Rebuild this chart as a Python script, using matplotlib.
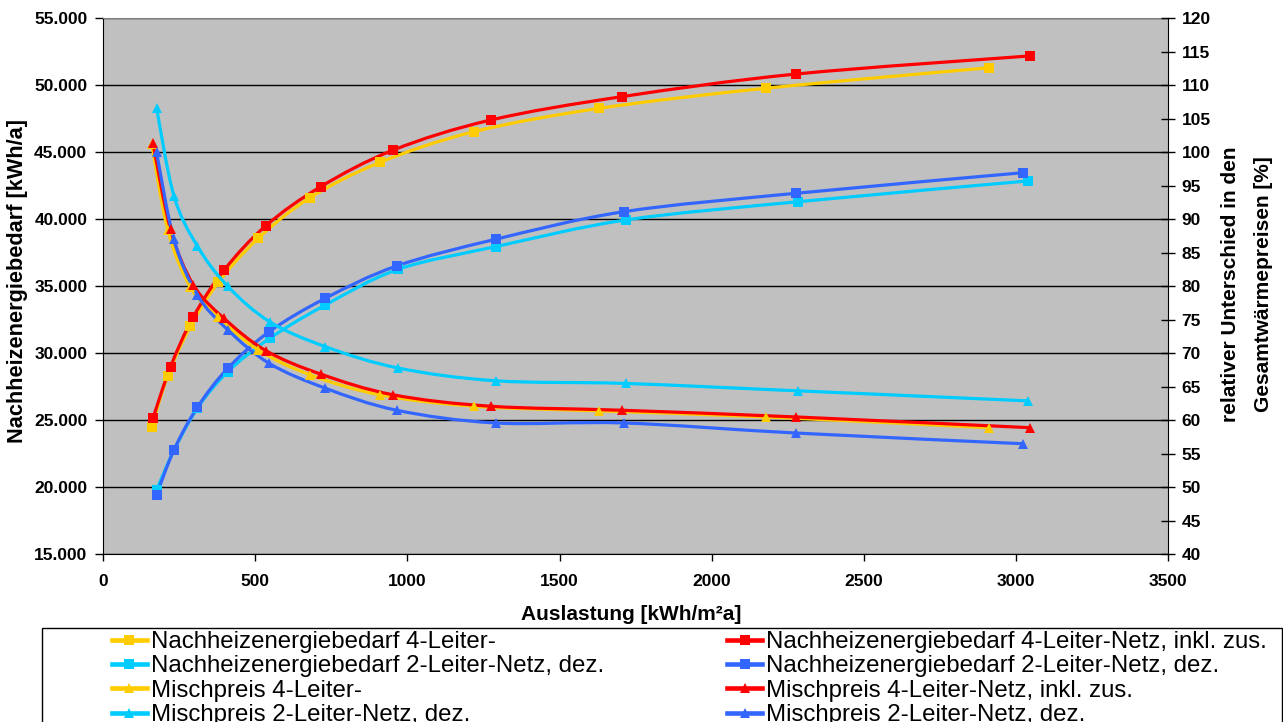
import matplotlib.pyplot as plt
from matplotlib.path import Path
from matplotlib.patches import PathPatch, Rectangle
from matplotlib.lines import Line2D
from matplotlib.ticker import FuncFormatter, MultipleLocator

plt.rcParams['font.family'] = ['Liberation Sans', 'DejaVu Sans']
plt.rcParams['font.weight'] = 'bold'

# Auslastung [kWh/m²a] per network variant
x_4l = [160, 213, 287, 379, 510, 680, 910, 1219, 1630, 2178, 2910]
x_4l_zus = [164, 222, 297, 398, 535, 715, 954, 1274, 1704, 2277, 3044]
x_2l_a = [176, 233, 310, 410, 548, 730, 970, 1290, 1718, 2282, 3038]
x_2l_b = [176, 233, 310, 410, 546, 730, 965, 1290, 1712, 2276, 3024]

# Nachheizenergiebedarf [kWh/a]
nh_4l = [24520, 28330, 32000, 35300, 38580, 41610, 44250, 46540, 48280, 49780, 51310]
nh_4l_zus = [25150, 29000, 32730, 36210, 39520, 42430, 45170, 47410, 49150, 50840, 52190]
nh_2l_a = [19800, 22750, 25900, 28630, 31120, 33600, 36270, 37960, 39950, 41310, 42860]
nh_2l_b = [19430, 22780, 25970, 28880, 31610, 34100, 36520, 38510, 40570, 41940, 43480]

# Mischpreis, relativ [%]
mp_4l = [101.3, 88.4, 79.9, 75.4, 70.5, 66.8, 63.8, 62.1, 61.4, 60.5, 58.9]
mp_4l_zus = [101.4, 88.5, 80.2, 75.2, 70.4, 66.9, 63.8, 62.1, 61.5, 60.5, 58.9]
mp_2l_a = [106.6, 93.5, 86.0, 80.0, 74.7, 71.0, 67.8, 65.9, 65.5, 64.4, 62.9]
mp_2l_b = [100.0, 87.0, 78.7, 73.5, 68.5, 64.8, 61.5, 59.6, 59.6, 58.1, 56.5]

labels = [
    'Nachheizenergiebedarf 4-Leiter-',
    'Nachheizenergiebedarf 4-Leiter-Netz, inkl. zus.',
    'Nachheizenergiebedarf 2-Leiter-Netz, dez.',
    'Nachheizenergiebedarf 2-Leiter-Netz, dez.',
    'Mischpreis 4-Leiter-',
    'Mischpreis 4-Leiter-Netz, inkl. zus.',
    'Mischpreis 2-Leiter-Netz, dez.',
    'Mischpreis 2-Leiter-Netz, dez.',
]

YELLOW = '#FFCC00'
RED = '#FF0000'
CYAN = '#00CCFF'
BLUE = '#3366FF'

W, H = 1283, 722
LW = 2.3
MS = 7.5


def smooth_path(xs, ys):
    # cubic bezier through all points, tangents from neighbouring points
    pts = list(zip(xs, ys))
    n = len(pts)
    verts = [pts[0]]
    codes = [Path.MOVETO]
    for i in range(n - 1):
        p0 = pts[max(i - 1, 0)]
        p1 = pts[i]
        p2 = pts[i + 1]
        p3 = pts[min(i + 2, n - 1)]
        c1 = (p1[0] + (p2[0] - p0[0]) / 6, p1[1] + (p2[1] - p0[1]) / 6)
        c2 = (p2[0] - (p3[0] - p1[0]) / 6, p2[1] - (p3[1] - p1[1]) / 6)
        verts += [c1, c2, p2]
        codes += [Path.CURVE4] * 3
    return Path(verts, codes)


def draw_series(ax, xs, ys, color, marker):
    ax.add_patch(PathPatch(smooth_path(xs, ys), fill=False, edgecolor=color,
                           lw=LW, capstyle='round', joinstyle='round'))
    ax.plot(xs, ys, ls='none', marker=marker, ms=MS, color=color,
            markeredgewidth=0)


fig = plt.figure(figsize=(W / 100, H / 100), dpi=100)
ax = fig.add_axes([103 / W, 1 - 554.3 / H, 1065.3 / W, 536 / H])
ax.set_facecolor('#C0C0C0')
ax.set_xlim(0, 3500)
ax.set_ylim(15000, 55000)
ax.xaxis.set_major_locator(MultipleLocator(500))
ax.yaxis.set_major_locator(MultipleLocator(5000))
ax.yaxis.set_major_formatter(FuncFormatter(lambda v, p: f'{int(v):,}'.replace(',', '.')))
ax.yaxis.grid(True, color='black', lw=1)
ax.set_axisbelow(True)
ax.tick_params(axis='y', direction='out', length=6, width=1, labelsize=12.5, pad=5.3)
ax.tick_params(axis='x', direction='out', length=5, width=1, labelsize=12.5, pad=9.5)
ax.spines['top'].set_color('#808080')
ax.spines['right'].set_visible(False)

draw_series(ax, x_4l, nh_4l, YELLOW, 's')
draw_series(ax, x_4l_zus, nh_4l_zus, RED, 's')
draw_series(ax, x_2l_a, nh_2l_a, CYAN, 's')
draw_series(ax, x_2l_b, nh_2l_b, BLUE, 's')

ax2 = ax.twinx()
ax2.set_ylim(40, 120)
ax2.yaxis.set_major_locator(MultipleLocator(5))
ax2.tick_params(axis='y', direction='inout', length=10, width=1, labelsize=12.5, pad=4.5)
ax2.spines['top'].set_visible(False)
ax2.spines['left'].set_visible(False)
ax2.spines['bottom'].set_visible(False)

draw_series(ax2, x_4l, mp_4l, YELLOW, '^')
draw_series(ax2, x_4l_zus, mp_4l_zus, RED, '^')
draw_series(ax2, x_2l_a, mp_2l_a, CYAN, '^')
draw_series(ax2, x_2l_b, mp_2l_b, BLUE, '^')

fig.text(631.5 / W, 1 - 615 / H, 'Auslastung [kWh/m²a]', ha='center', va='center', fontsize=15)
fig.text(18 / W, 1 - 281 / H, 'Nachheizenergiebedarf [kWh/a]', rotation=90,
         ha='center', va='center', fontsize=15.7)
fig.text(1247 / W, 1 - 284 / H, 'relativer Unterschied in den\nGesamtwärmepreisen [%]',
         rotation=90, ha='center', va='center', multialignment='center',
         fontsize=15, linespacing=1.95)

# legend: two columns inside one frame
colors = [YELLOW, RED, CYAN, BLUE, YELLOW, RED, CYAN, BLUE]
markers = ['s', 's', 's', 's', '^', '^', '^', '^']
handles = [Line2D([], [], color=c, lw=LW + 1, marker=m, ms=MS, markeredgewidth=0)
           for c, m in zip(colors, markers)]

fs = 17.3
leg_kw = dict(loc='upper left', frameon=False, borderpad=0, borderaxespad=0,
              handlelength=35 / (fs * 1.389), handletextpad=4 / (fs * 1.389),
              labelspacing=0.1, prop={'weight': 'normal', 'size': fs})
leg1 = fig.legend(handles[0::2], labels[0::2], bbox_to_anchor=(111.7 / W, 1 - 631 / H), **leg_kw)
leg2 = fig.legend(handles[1::2], labels[1::2], bbox_to_anchor=(727.3 / W, 1 - 631 / H), **leg_kw)

fig.patches.append(Rectangle((42 / W, -0.05), (1282 - 42) / W, 0.05 + 1 - 628 / H,
                             transform=fig.transFigure, fill=False, edgecolor='black', lw=1))

fig.savefig('out.png', dpi=100)
